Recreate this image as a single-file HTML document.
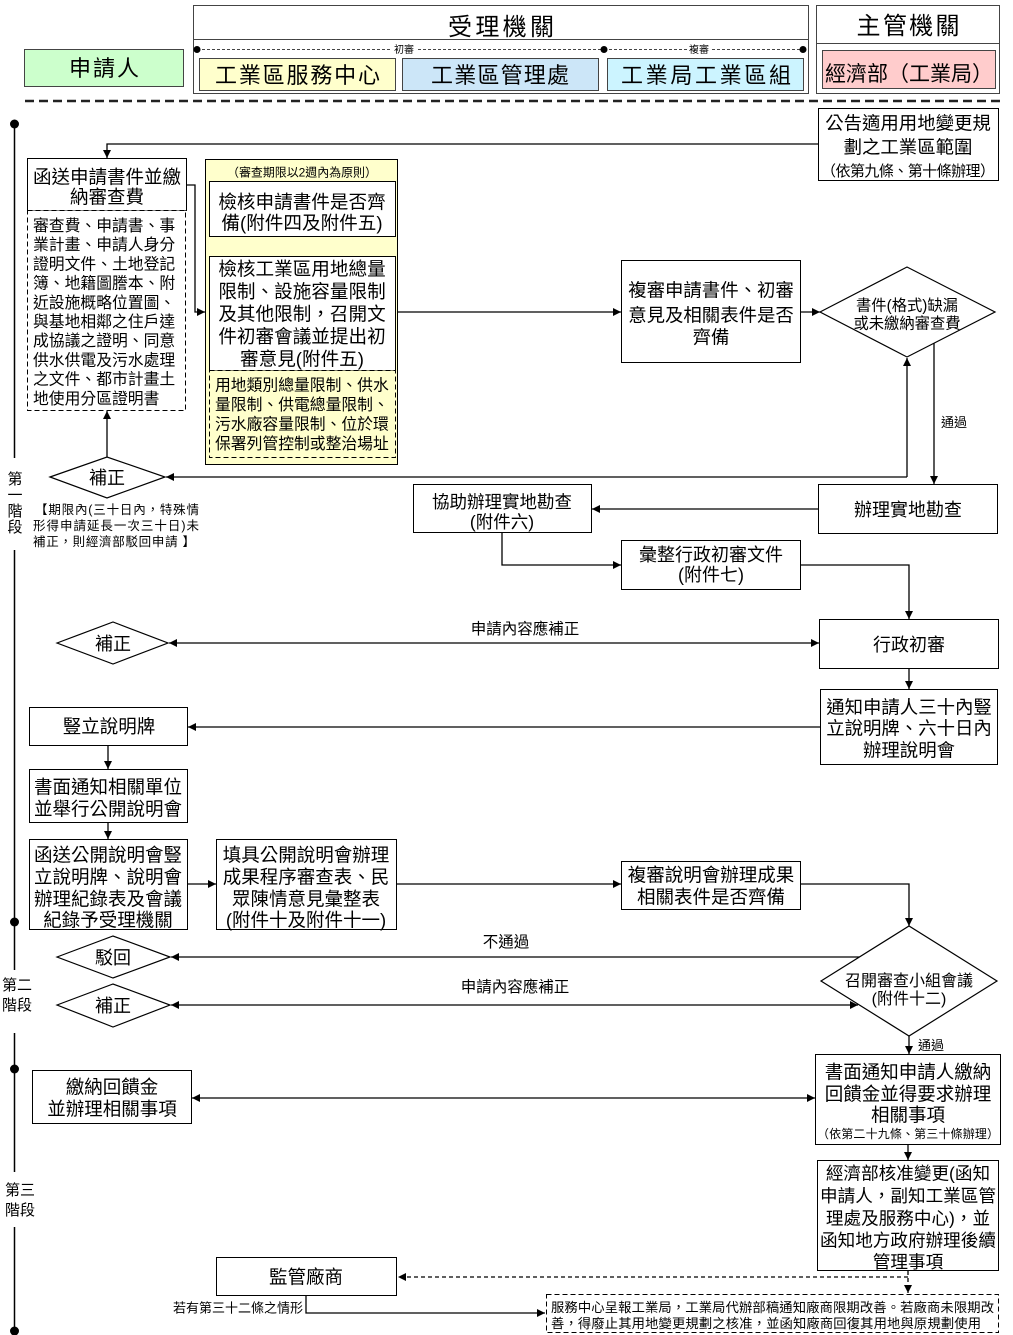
<!DOCTYPE html>
<html><head><meta charset="utf-8"><style>
html,body{margin:0;padding:0;background:#fff;}
svg{display:block;font-family:"Liberation Sans","Noto Sans CJK TC","Noto Sans CJK SC",sans-serif;}
</style></head><body>
<svg width="1013" height="1335" viewBox="0 0 1013 1335" xmlns="http://www.w3.org/2000/svg">
<defs>
<marker id="ah" viewBox="0 0 10 10" refX="10" refY="5" markerWidth="9" markerHeight="8" markerUnits="userSpaceOnUse" orient="auto-start-reverse"><path d="M0,0L10,5L0,10z" fill="#000"/></marker>
</defs>

<!-- HEADER -->
<rect x="24.5" y="49.5" width="159" height="37" fill="#ccffcc" stroke="#444"/>
<text x="104" y="76" font-size="22" text-anchor="middle" textLength="70">申請人</text>

<rect x="193.5" y="5.5" width="615" height="88" fill="#fff" stroke="#444"/>
<line x1="193.5" y1="39.5" x2="808.5" y2="39.5" stroke="#444"/>
<text x="501" y="35" font-size="24" text-anchor="middle" textLength="106">受理機關</text>
<path d="M197 49.5H390M418 49.5H604M604 49.5H688M712 49.5H803" stroke="#444" stroke-dasharray="3 2" fill="none"/>
<circle cx="197" cy="49.5" r="3.5" fill="#000"/>
<circle cx="604" cy="49.5" r="3.5" fill="#000"/>
<circle cx="803" cy="49.5" r="3.5" fill="#000"/>
<text x="404" y="53" font-size="10" text-anchor="middle">初審</text>
<text x="699" y="53" font-size="10" text-anchor="middle">複審</text>
<rect x="199.5" y="58.5" width="196" height="32" fill="#ffffcc" stroke="#444"/>
<rect x="402.5" y="58.5" width="196" height="32" fill="#cce6f8" stroke="#444"/>
<rect x="607.5" y="58.5" width="196" height="32" fill="#ccf4ff" stroke="#444"/>
<text x="297.5" y="83" font-size="22" text-anchor="middle" textLength="165">工業區服務中心</text>
<text x="500" y="83" font-size="22" text-anchor="middle" textLength="138">工業區管理處</text>
<text x="706" y="83" font-size="22" text-anchor="middle" textLength="170">工業局工業區組</text>

<rect x="816.5" y="5.5" width="183" height="88" fill="#fff" stroke="#444"/>
<line x1="816.5" y1="43.5" x2="999.5" y2="43.5" stroke="#444"/>
<text x="908" y="34" font-size="24" text-anchor="middle" textLength="103">主管機關</text>
<rect x="822.5" y="50.5" width="173" height="38" fill="#ffcccc" stroke="#444"/>
<text x="909" y="81" font-size="21" text-anchor="middle" textLength="168">經濟部（工業局）</text>

<line x1="25" y1="101" x2="1000" y2="101" stroke="#222" stroke-width="2.5" stroke-dasharray="9 5"/>

<!-- TIMELINE -->
<g stroke="#000" stroke-width="1.5">
<line x1="14.5" y1="124" x2="14.5" y2="458"/>
<line x1="14.5" y1="550" x2="14.5" y2="970"/>
<line x1="14.5" y1="1033" x2="14.5" y2="1172"/>
<line x1="14.5" y1="1227" x2="14.5" y2="1332"/>
</g>
<circle cx="14.5" cy="124" r="4.5" fill="#000"/>
<circle cx="14.5" cy="922" r="4.5" fill="#000"/>
<circle cx="14.5" cy="1069" r="4.5" fill="#000"/>
<circle cx="14.5" cy="1331" r="4.5" fill="#000"/>
<g font-size="15" text-anchor="middle">
<text x="15" y="484">第</text>
<text x="15" y="500">一</text>
<text x="15" y="516">階</text>
<text x="15" y="532">段</text>
<text x="17" y="990">第二</text>
<text x="17" y="1010">階段</text>
<text x="20" y="1195">第三</text>
<text x="20" y="1215">階段</text>
</g>

<!-- CONNECTORS -->
<g stroke="#000" stroke-width="1.3" fill="none">
<polyline points="818,144 107,144 107,158" marker-end="url(#ah)"/>
<polyline points="186,185 195,185 195,312 205,312" marker-end="url(#ah)"/>
<line x1="302" y1="237" x2="302" y2="256" marker-end="url(#ah)"/>
<line x1="395" y1="312" x2="621" y2="312" marker-end="url(#ah)"/>
<line x1="800" y1="312" x2="820" y2="312" marker-end="url(#ah)"/>
<line x1="907" y1="477" x2="907" y2="358" marker-end="url(#ah)"/>
<line x1="907" y1="477" x2="166" y2="477" marker-end="url(#ah)"/>
<line x1="934" y1="343" x2="934" y2="484" marker-end="url(#ah)"/>
<line x1="107" y1="457" x2="107" y2="411" marker-end="url(#ah)"/>
<line x1="818" y1="509" x2="592" y2="509" marker-end="url(#ah)"/>
<polyline points="502,533 502,565 621,565" marker-end="url(#ah)"/>
<polyline points="801,565 909,565 909,619" marker-end="url(#ah)"/>
<line x1="169" y1="643" x2="819" y2="643" marker-start="url(#ah)" marker-end="url(#ah)"/>
<line x1="909" y1="669" x2="909" y2="689" marker-end="url(#ah)"/>
<line x1="820" y1="727" x2="188" y2="727" marker-end="url(#ah)"/>
<line x1="108" y1="745" x2="108" y2="769" marker-end="url(#ah)"/>
<line x1="108" y1="822" x2="108" y2="839" marker-end="url(#ah)"/>
<line x1="188" y1="884" x2="216" y2="884" marker-end="url(#ah)"/>
<line x1="397" y1="884" x2="621" y2="884" marker-end="url(#ah)"/>
<polyline points="801,884 909,884 909,926" marker-end="url(#ah)"/>
<line x1="860" y1="957" x2="171" y2="957" marker-end="url(#ah)"/>
<line x1="171" y1="1005" x2="858" y2="1005" marker-start="url(#ah)" marker-end="url(#ah)"/>
<line x1="909" y1="1036" x2="909" y2="1054" marker-end="url(#ah)"/>
<line x1="192" y1="1098" x2="815" y2="1098" marker-start="url(#ah)" marker-end="url(#ah)"/>
<line x1="908" y1="1145" x2="908" y2="1160" marker-end="url(#ah)"/>
<line x1="908" y1="1271" x2="908" y2="1293" stroke-dasharray="4 3" marker-end="url(#ah)"/>
<line x1="908" y1="1277" x2="398" y2="1277" stroke-dasharray="4 3" marker-end="url(#ah)"/>
<polyline points="306,1295 306,1313 545,1313" marker-end="url(#ah)"/>
</g>

<!-- TOP RIGHT -->
<rect x="818.5" y="108.5" width="180" height="72" fill="#fff" stroke="#000"/>
<text x="908" y="129.5" font-size="18.4" text-anchor="middle">公告適用用地變更規</text>
<text x="908" y="153.5" font-size="18.4" text-anchor="middle">劃之工業區範圍</text>
<text x="908" y="176" font-size="15" text-anchor="middle" textLength="174">（依第九條、第十條辦理）</text>

<!-- 函送 -->
<rect x="27.5" y="158.5" width="159" height="52" fill="#fff" stroke="#000"/>
<text x="107" y="183.5" font-size="18.5" text-anchor="middle">函送申請書件並繳</text>
<text x="107" y="203.5" font-size="18.5" text-anchor="middle">納審查費</text>
<rect x="27.5" y="210.5" width="158" height="200" fill="#fff" stroke="#000" stroke-dasharray="5 3"/>
<g font-size="15.8">
<text x="33" y="231">審查費、申請書、事</text>
<text x="33" y="250.2">業計畫、申請人身分</text>
<text x="33" y="269.4">證明文件、土地登記</text>
<text x="33" y="288.6">簿、地籍圖謄本、附</text>
<text x="33" y="307.8">近設施概略位置圖、</text>
<text x="33" y="327">與基地相鄰之住戶達</text>
<text x="33" y="346.2">成協議之證明、同意</text>
<text x="33" y="365.4">供水供電及污水處理</text>
<text x="33" y="384.6">之文件、都市計畫土</text>
<text x="33" y="403.8">地使用分區證明書</text>
</g>

<!-- YELLOW REGION -->
<rect x="205.5" y="159.5" width="192" height="305" fill="#ffffcc" stroke="#000"/>
<text x="302" y="176.5" font-size="12" text-anchor="middle" textLength="150">（審查期限以2週內為原則）</text>
<rect x="209.5" y="181.5" width="186" height="55" fill="#fff" stroke="#000"/>
<text x="302" y="208.5" font-size="18.6" text-anchor="middle">檢核申請書件是否齊</text>
<text x="302" y="229.5" font-size="18.6" text-anchor="middle">備(附件四及附件五)</text>
<rect x="209.5" y="256.5" width="186" height="114" fill="#fff" stroke="#000"/>
<g font-size="18.6" text-anchor="middle">
<text x="302" y="275.5">檢核工業區用地總量</text>
<text x="302" y="298">限制、設施容量限制</text>
<text x="302" y="320.5">及其他限制，召開文</text>
<text x="302" y="343">件初審會議並提出初</text>
<text x="302" y="365.5">審意見(附件五)</text>
</g>
<rect x="209.5" y="370.5" width="186" height="87" fill="#ffffcc" stroke="#000" stroke-dasharray="5 3"/>
<g font-size="15.8">
<text x="215" y="390.5">用地類別總量限制、供水</text>
<text x="215" y="410">量限制、供電總量限制、</text>
<text x="215" y="429.5">污水廠容量限制、位於環</text>
<text x="215" y="449">保署列管控制或整治場址</text>
</g>

<!-- 複審申請書件 -->
<rect x="621.5" y="260.5" width="179" height="102" fill="#fff" stroke="#000"/>
<g font-size="18.4" text-anchor="middle">
<text x="711" y="296.5">複審申請書件、初審</text>
<text x="711" y="321.5">意見及相關表件是否</text>
<text x="711" y="343.5">齊備</text>
</g>

<!-- 書件 diamond -->
<polygon points="820,312 907,267 995,312 907,357" fill="#fff" stroke="#000" stroke-width="1.2"/>
<text x="907" y="310.5" font-size="15.3" text-anchor="middle">書件(格式)缺漏</text>
<text x="907" y="328.5" font-size="15.3" text-anchor="middle">或未繳納審查費</text>
<text x="954" y="427" font-size="13" text-anchor="middle">通過</text>

<!-- 補正 1 -->
<polygon points="50,477 107,457 165,477 107,498" fill="#fff" stroke="#000" stroke-width="1.2"/>
<text x="107" y="484" font-size="18" text-anchor="middle">補正</text>
<g font-size="12.5">
<text x="35" y="514" textLength="164">【期限內(三十日內，特殊情</text>
<text x="33" y="530" textLength="166">形得申請延長一次三十日)未</text>
<text x="33" y="546" textLength="162">補正，則經濟部駁回申請 】</text>
</g>

<!-- 協助 / 辦理 -->
<rect x="413.5" y="484.5" width="178" height="48" fill="#fff" stroke="#000"/>
<text x="502" y="508" font-size="17.5" text-anchor="middle">協助辦理實地勘查</text>
<text x="502" y="528" font-size="17.5" text-anchor="middle">(附件六)</text>
<rect x="818.5" y="484.5" width="179" height="49" fill="#fff" stroke="#000"/>
<text x="908" y="516" font-size="18" text-anchor="middle">辦理實地勘查</text>

<rect x="621.5" y="540.5" width="179" height="49" fill="#fff" stroke="#000"/>
<text x="711" y="561" font-size="18" text-anchor="middle">彙整行政初審文件</text>
<text x="711" y="581" font-size="18" text-anchor="middle">(附件七)</text>

<!-- 補正 2 / 行政初審 -->
<polygon points="57,643 113,622 168,643 113,664" fill="#fff" stroke="#000" stroke-width="1.2"/>
<text x="113" y="650" font-size="18" text-anchor="middle">補正</text>
<text x="525" y="634" font-size="15.5" text-anchor="middle">申請內容應補正</text>
<rect x="819.5" y="619.5" width="179" height="49" fill="#fff" stroke="#000"/>
<text x="909" y="651" font-size="18" text-anchor="middle">行政初審</text>

<rect x="820.5" y="689.5" width="177" height="75" fill="#fff" stroke="#000"/>
<g font-size="18.4" text-anchor="middle">
<text x="909" y="713.5">通知申請人三十內豎</text>
<text x="909" y="734.5">立說明牌、六十日內</text>
<text x="909" y="756.5">辦理說明會</text>
</g>

<!-- Stage 2 left column -->
<rect x="29.5" y="707.5" width="158" height="38" fill="#fff" stroke="#000"/>
<text x="109" y="733" font-size="18.5" text-anchor="middle">豎立說明牌</text>
<rect x="29.5" y="769.5" width="158" height="53" fill="#fff" stroke="#000"/>
<text x="108" y="793.5" font-size="18.5" text-anchor="middle">書面通知相關單位</text>
<text x="108" y="815.5" font-size="18.5" text-anchor="middle">並舉行公開說明會</text>
<rect x="29.5" y="839.5" width="158" height="90" fill="#fff" stroke="#000"/>
<g font-size="18.5" text-anchor="middle">
<text x="108" y="861.5">函送公開說明會豎</text>
<text x="108" y="883.5">立說明牌、說明會</text>
<text x="108" y="905.5">辦理紀錄表及會議</text>
<text x="108" y="926.5">紀錄予受理機關</text>
</g>
<rect x="216.5" y="839.5" width="180" height="90" fill="#fff" stroke="#000"/>
<g font-size="18.5" text-anchor="middle">
<text x="306" y="861.5">填具公開說明會辦理</text>
<text x="306" y="883.5">成果程序審查表、民</text>
<text x="306" y="905.5">眾陳情意見彙整表</text>
<text x="306" y="926.5">(附件十及附件十一)</text>
</g>
<rect x="621.5" y="861.5" width="179" height="48" fill="#fff" stroke="#000"/>
<text x="711" y="881.5" font-size="18.5" text-anchor="middle">複審說明會辦理成果</text>
<text x="711" y="903.5" font-size="18.5" text-anchor="middle">相關表件是否齊備</text>

<!-- 召開 diamond -->
<polygon points="821,981 909,926 997,981 909,1036" fill="#fff" stroke="#000" stroke-width="1.2"/>
<text x="909" y="986" font-size="16" text-anchor="middle">召開審查小組會議</text>
<text x="909" y="1004" font-size="16" text-anchor="middle">(附件十二)</text>
<text x="506" y="947" font-size="15.5" text-anchor="middle">不通過</text>
<text x="515" y="992" font-size="15.5" text-anchor="middle">申請內容應補正</text>
<text x="931" y="1050" font-size="13" text-anchor="middle">通過</text>

<polygon points="57,957 113,936 170,957 113,978" fill="#fff" stroke="#000" stroke-width="1.2"/>
<text x="113" y="964" font-size="18" text-anchor="middle">駁回</text>
<polygon points="57,1005 113,984 170,1005 113,1027" fill="#fff" stroke="#000" stroke-width="1.2"/>
<text x="113" y="1012" font-size="18" text-anchor="middle">補正</text>

<!-- Stage 3 -->
<rect x="815.5" y="1054.5" width="185" height="90" fill="#fff" stroke="#000"/>
<g font-size="18.5" text-anchor="middle">
<text x="908" y="1078.5">書面通知申請人繳納</text>
<text x="908" y="1100.5">回饋金並得要求辦理</text>
<text x="908" y="1121.5">相關事項</text>
</g>
<text x="908" y="1138" font-size="12" text-anchor="middle" textLength="182">（依第二十九條、第三十條辦理）</text>

<rect x="32.5" y="1070.5" width="159" height="53" fill="#fff" stroke="#000"/>
<text x="112" y="1093.5" font-size="18.5" text-anchor="middle">繳納回饋金</text>
<text x="112" y="1115.5" font-size="18.5" text-anchor="middle">並辦理相關事項</text>

<rect x="817.5" y="1160.5" width="181" height="110" fill="#fff" stroke="#000"/>
<g font-size="17.6" text-anchor="middle">
<text x="908" y="1179.5">經濟部核准變更(函知</text>
<text x="908" y="1202">申請人，副知工業區管</text>
<text x="908" y="1224.5">理處及服務中心)，並</text>
<text x="908" y="1246.5">函知地方政府辦理後續</text>
<text x="908" y="1268">管理事項</text>
</g>

<rect x="216.5" y="1257.5" width="180" height="38" fill="#fff" stroke="#000"/>
<text x="306" y="1283.5" font-size="18.5" text-anchor="middle">監管廠商</text>
<text x="303" y="1312.5" font-size="13" text-anchor="end">若有第三十二條之情形</text>

<rect x="546.5" y="1294.5" width="452" height="38" fill="#fff" stroke="#000" stroke-dasharray="5 3"/>
<text x="551" y="1312" font-size="13.3" textLength="443">服務中心呈報工業局，工業局代辦部稿通知廠商限期改善。若廠商未限期改</text>
<text x="551" y="1328" font-size="13.3" textLength="430">善，得廢止其用地變更規劃之核准，並函知廠商回復其用地與原規劃使用</text>
</svg>
</body></html>
